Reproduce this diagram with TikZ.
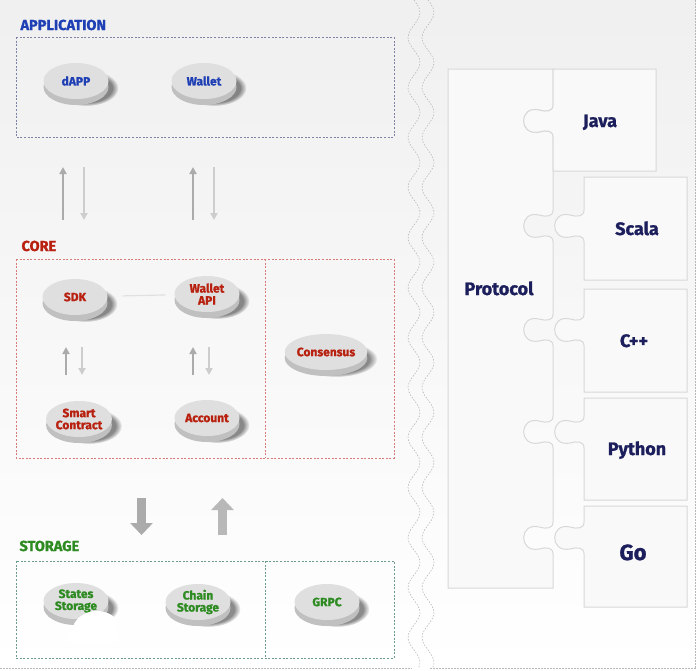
\documentclass[tikz,border=0pt]{standalone}
\usepackage{fontspec}
\setmainfont{Fira Sans}[BoldFeatures={FakeBold=1.2}]
\usepackage{tikz}
\usetikzlibrary{positioning, arrows.meta, shapes.geometric, shadows, fadings}

\definecolor{appblue}{HTML}{1F3FB5}
\definecolor{corered}{HTML}{B8200F}
\definecolor{storegreen}{HTML}{2E8B22}
\definecolor{langnavy}{HTML}{1C1F5C}
\definecolor{appframe}{HTML}{7C82A6}
\definecolor{coreframe}{HTML}{D97A7A}
\definecolor{storeframe}{HTML}{6E9C8C}
\definecolor{diskface}{HTML}{DFDFDF}
\definecolor{diskrim}{HTML}{C0C0C0}
\definecolor{arrowdark}{HTML}{ABABAB}
\definecolor{arrowlight}{HTML}{CDCDCD}
\definecolor{piecegray}{HTML}{D8D8D8}
\definecolor{piecefill}{HTML}{F9F9F9}

\tikzset{
  disk/.style={ellipse, minimum width=65pt, minimum height=36pt, inner sep=0pt, align=center,
    fill=diskface, font=\bfseries\fontsize{12}{12}\selectfont,
    preaction={fill=black, fill opacity=0.45, path fading=circle with fuzzy edge 20 percent,
      transform canvas={shift={(10pt,-7pt)}}},
    copy shadow={shadow xshift=0pt, shadow yshift=-6pt, fill=diskrim, draw=none}},
  title/.style={anchor=base west, font=\bfseries\fontsize{14.5}{16}\selectfont},
  layer/.style={dash pattern=on 2pt off 1.6pt, line width=0.7pt},
  thinup/.style={-{Triangle[width=7pt,length=7pt]}, line width=2.2pt, draw=arrowdark},
  thindown/.style={-{Triangle[width=7pt,length=7pt]}, line width=2.2pt, draw=arrowlight},
  bigarrow/.style={-{Triangle[width=22pt,length=12pt]}, line width=9pt, draw=arrowdark},
  piece/.style={draw=piecegray, line width=1pt, fill=piecefill},
  lang/.style={anchor=base, font=\bfseries\fontsize{18}{20}\selectfont, text=langnavy},
  zigzag/.style={draw=black!28, dash pattern=on 1.5pt off 1.5pt, line width=0.6pt},
}

\begin{document}
\begin{tikzpicture}[x=1pt, y=-1pt]
% canvas
\useasboundingbox (0,0) rectangle (696,670);
\shade[top color=black!6, bottom color=white] (0,0) rectangle (696,670);

% panel borders
\draw[zigzag] (0,668) -- (412,668);
\draw[zigzag] (430,668) -- (696,668);
\draw[zigzag] (695,0) -- (695,668);
\draw[zigzag] plot[domain=0:668, samples=160] ({414+6*sin(7.2*\x)}, \x);
\draw[zigzag] plot[domain=0:668, samples=160] ({428+6*sin(7.2*\x)}, \x);

% layer titles
\node[title, text=appblue] (apptitle) at (17,30) {APPLICATION};
\node[title, text=corered] (coretitle) at (18,251) {CORE};
\node[title, text=storegreen] (storetitle) at (16,551) {STORAGE};

% layer boxes
\draw[layer, draw=appframe] (16,37) rectangle (394,137);
\draw[layer, draw=coreframe] (16,259) rectangle (394,458);
\draw[layer, draw=coreframe] (265,259) -- (265,458);
\draw[layer, draw=storeframe] (16,561) rectangle (394,658);
\draw[layer, draw=storeframe] (265,561) -- (265,658);

% application
\node[disk, text=appblue] (dapp) at (76,81) {dAPP};
\node[disk, text=appblue] (wallet) at (204,81) {Wallet};

% core
\node[disk, text=corered] (sdk) at (75,297) {SDK};
\node[disk, text=corered] (wapi) at (207,294) {Wallet\\API};
\node[disk, text=corered] (contract) at (79,419) {Smart\\Contract};
\node[disk, text=corered] (account) at (207,418) {Account};
\node[disk, text=corered] (consensus) at (326,352) {Consensus};
\draw[draw=black!12, line width=1.2pt, shorten <=15pt, shorten >=9pt] (sdk) -- (wapi);

% storage
\node[disk, text=storegreen] (states) at (76,601) {States\\Storage};
\node[disk, text=storegreen] (chain) at (198,602) {Chain\\Storage};
\node[disk, text=storegreen] (grpc) at (327,602) {GRPC};
\fill[white] (72,630) .. controls (76,610) and (102,606) .. (114,617) -- (120,642) -- (66,642) -- cycle;

% arrows application <-> core
\coordinate (appA) at (63,167); \coordinate (coreA) at (63,220);
\coordinate (appB) at (84,167); \coordinate (coreB) at (84,220);
\coordinate (appC) at (193,167); \coordinate (coreC) at (193,220);
\coordinate (appD) at (214,167); \coordinate (coreD) at (214,220);
\draw[thinup] (coreA) -- (appA);
\draw[thindown] (appB) -- (coreB);
\draw[thinup] (coreC) -- (appC);
\draw[thindown] (appD) -- (coreD);

% arrows inside core
\coordinate (sdkA) at (66,347); \coordinate (scA) at (66,375);
\coordinate (sdkB) at (82,347); \coordinate (scB) at (82,375);
\coordinate (wapiA) at (193,347); \coordinate (accA) at (193,375);
\coordinate (wapiB) at (209,347); \coordinate (accB) at (209,375);
\draw[thinup] (scA) -- (sdkA);
\draw[thindown] (sdkB) -- (scB);
\draw[thinup] (accA) -- (wapiA);
\draw[thindown] (wapiB) -- (accB);

% arrows core <-> storage
\coordinate (coreE) at (141.5,498); \coordinate (storeE) at (141.5,535);
\coordinate (coreF) at (222.5,498); \coordinate (storeF) at (222.5,535);
\draw[bigarrow] (coreE) -- (storeE);
\draw[bigarrow, draw=arrowdark!85] (storeF) -- (coreF);

% puzzle pieces
\draw[piece] (448,69) -- (553,69)
  foreach \k in {121,226,330,432,538} {
    -- (553,\k-16) .. controls (553,\k-9) and (546,\k-9) .. (539,\k-11)
    .. controls (519,\k-16) and (518,\k+15) .. (539,\k+11)
    .. controls (546,\k+9) and (553,\k+9) .. (553,\k+16)
  } -- (553,588) -- (448,588) -- cycle;
\draw[piece] (553,69) -- (656,69) -- (656,171) -- (553,171) -- (553,137)
  .. controls (553,130) and (546,130) .. (539,132)
  .. controls (518,136) and (519,105) .. (539,110)
  .. controls (546,112) and (553,112) .. (553,105) -- cycle;
\foreach \t/\b/\k in {177/280/226, 289/392/330, 398/500/432, 506/607/538}
  \draw[piece] (584,\t) -- (687,\t) -- (687,\b) -- (584,\b) -- (584,\k+16)
    .. controls (584,\k+9) and (577,\k+9) .. (570,\k+11)
    .. controls (549,\k+15) and (550,\k-16) .. (570,\k-11)
    .. controls (577,\k-9) and (584,\k-9) .. (584,\k-16) -- cycle;

% languages
\node[lang] (protocol) at (499,295) {Protocol};
\node[lang] (java) at (600,127) {Java};
\node[lang] (scala) at (637,235) {Scala};
\node[lang] (cpp) at (634,347) {C++};
\node[lang] (python) at (637,455) {Python};
\node[lang, font=\bfseries\fontsize{22}{24}\selectfont] (go) at (633,560) {Go};
\end{tikzpicture}
\end{document}
